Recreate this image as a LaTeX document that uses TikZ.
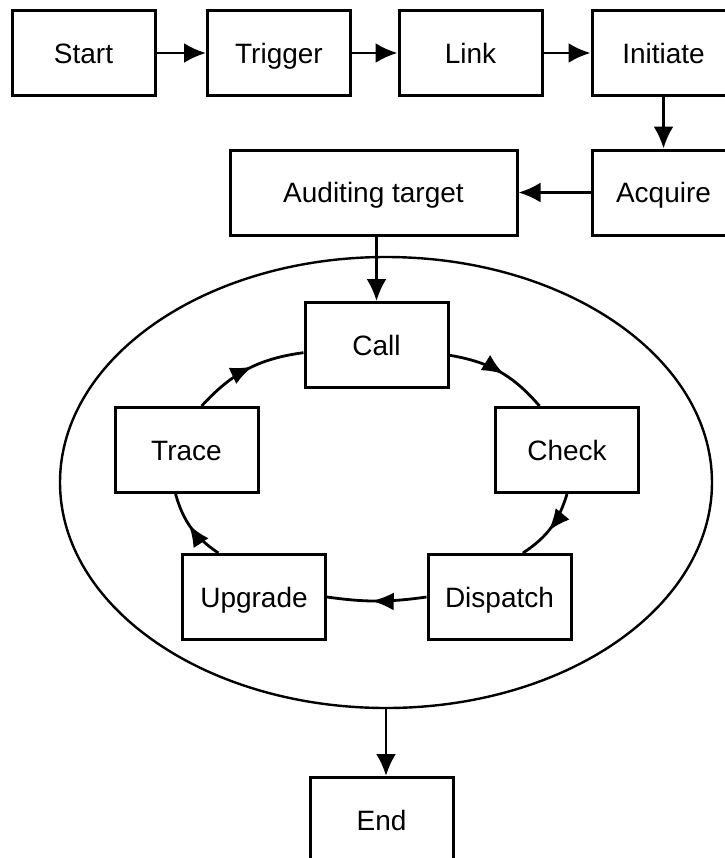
\documentclass[tikz,border=0pt]{standalone}
\usepackage{fontspec}
\setmainfont{Liberation Sans}
\usetikzlibrary{arrows.meta}
\usetikzlibrary{shapes.geometric}
\usetikzlibrary{decorations.markings}

\begin{document}
\begin{tikzpicture}[x=0.5pt,y=-0.5pt]
\tikzstyle{box}=[rectangle,align=center,draw,line width=1.5pt,minimum width=71.5pt,minimum height=42.5pt,inner sep=0pt,text height=10pt,text depth=0pt,font=\fontsize{14}{16}\selectfont,fill=white]
\tikzstyle{arr}=[line width=1.4pt,-{Latex[length=11pt,width=10pt]}]
\tikzstyle{cyc}=[line width=1.4pt,postaction={decorate},decoration={markings,mark=at position 0.55 with {\arrow{Latex[length=11pt,width=9pt]}}}]
\useasboundingbox (0,0) rectangle (724,858);
% top row
\node[box] at(83.5, 53) (start) {Start};
\node[box] at(279, 53) (trigger) {Trigger};
\node[box] at(470.5, 53) (link) {Link};
\node[box] at(663.5, 53) (initiate) {Initiate};
\node[box] at(663.5, 192.5) (acquire) {Acquire};
\node[box,minimum width=143.5pt] at(373.5, 192.5) (audit) {Auditing target};
% loop
\node[draw,ellipse,line width=1.2pt,minimum width=326pt,minimum height=225.5pt,inner sep=0pt] at(386, 482.5) (loop) {};
\node[box] at(376.5, 345) (call) {Call};
\node[box] at(567, 450) (check) {Check};
\node[box] at(186.5, 450) (trace) {Trace};
\node[box] at(499.5, 597) (dispatch) {Dispatch};
\node[box] at(254, 597) (upgrade) {Upgrade};
\node[box] at(381.5, 820) (end) {End};
\draw[arr] (start.east) to (trigger.west);
\draw[arr] (trigger.east) to (link.west);
\draw[arr] (link.east) to (initiate.west);
\draw[arr] (initiate.south) to (acquire.north);
\draw[arr] (acquire.west) to (audit.east);
\draw[arr] (call.north |- audit.south) to (call.north);
\draw[cyc] (call.-8) to[bend left=20] (check.122);
\draw[cyc] (check.south) to[bend left=20] (dispatch.62);
\draw[cyc] (dispatch.west) to[bend left=8] (upgrade.east);
\draw[cyc] (upgrade.129) to[bend left=20] (trace.256);
\draw[cyc] (trace.71) to[bend left=20] (call.186);
\draw[arr] (loop.south) to (loop.south |- end.north);
\end{tikzpicture}
\end{document}
